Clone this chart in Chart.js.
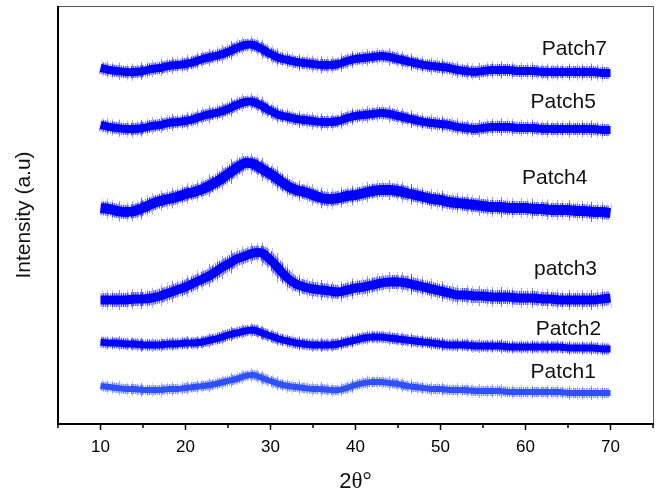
<!DOCTYPE html>
<html>
<head>
<meta charset="utf-8">
<script src="https://cdn.jsdelivr.net/npm/chart.js@4.4.1/dist/chart.umd.min.js"></script>
<style>
  html, body { margin: 0; padding: 0; background: #fff; }
</style>
</head>
<body>
<canvas id="xrd" width="660" height="494"></canvas>
<script>
// 2theta positions (degrees)
var twoTheta = [10,11,12,13,14,15,16,17,18,19,20,21,22,23,24,25,26,27,28,29,30,
                31,32,33,34,35,36,37,38,39,40,41,42,43,44,45,46,47,48,49,50,
                51,52,53,54,55,56,57,58,59,60,61,62,63,64,65,66,67,68,69,70];

// intensity (a.u.), offset traces as printed
var patch7 = [356,354,353,352,352,353,355,356,358,359,360,362,365,367,369,372,376,379,379,375,370,
              366,364,362,361,360,359,359,360,363,365,366,367,368,367,365,363,361,359,358,357,
              356,354,353,352,353,354,354,354,353,353,353,352,352,352,352,352,352,352,351,351];
var patch5 = [299,297,296,295,295,296,298,299,301,302,303,305,308,310,312,315,319,322,322,318,313,
              309,307,305,304,303,302,302,303,306,308,309,310,311,310,308,306,304,302,301,300,
              299,297,296,295,296,297,297,297,296,296,296,295,295,295,295,295,295,295,294,294];
var patch4 = [216,215,213,212,213,216,220,223,225,227,230,232,235,239,244,250,256,261,260,255,250,
              244,238,234,232,229,226,225,226,228,229,231,233,234,234,233,231,229,227,225,224,
              222,221,220,219,218,217,217,216,216,216,215,215,214,214,214,213,213,212,212,211];
var patch3 = [124,124,124,124,125,125,126,128,131,134,137,141,145,149,155,160,165,168,171,171,164,
              155,146,140,137,135,134,133,132,134,136,137,139,141,142,142,141,139,137,135,133,
              131,129,129,128,128,127,127,127,126,126,126,125,125,124,124,124,124,124,125,126];
var patch2 = [82,81,81,80,80,79,79,79,80,80,81,81,82,84,86,89,91,93,94,91,88,
              85,83,81,80,79,79,79,80,82,84,86,87,87,86,85,84,83,82,81,80,
              79,79,79,78,78,78,78,77,77,77,77,77,77,77,76,76,76,76,75,75];
var patch1 = [38,37,36,35,35,34,34,34,35,35,36,37,38,39,41,43,45,48,49,46,43,
              40,38,37,36,35,35,34,34,36,39,41,42,42,41,40,38,37,36,35,35,
              34,34,34,33,33,33,33,32,32,32,32,32,32,32,31,31,31,31,31,31];

var seriesNames = ["Patch1", "Patch2", "patch3", "Patch4", "Patch5", "Patch7"];
var seriesData = [patch1, patch2, patch3, patch4, patch5, patch7];
var majorTicks = [10, 20, 30, 40, 50, 60, 70];
var minorTicks = [5, 15, 25, 35, 45, 55, 65, 75];

// where each name sits (degrees, intensity)
var nameX = [60.6, 61.2, 61.0, 59.6, 60.6, 61.9];
var nameY = [46, 89, 149, 240, 316, 369];

// look of the traces
var traceRGB = ["48,80,255", "0,0,255", "0,0,255", "0,0,255", "0,0,255", "0,0,255"];
var coreWidth = [6, 7, 9, 10, 8, 8];
var midWidth = [10, 11, 14, 14, 12, 12];
var outerWidth = [14, 14, 20, 20, 17, 17];
// column shading for the scan noise (0..9 = alpha)
var midStripes = "7394061829350748261903857264093518273640519283746029183746501928374650";
var outerStripes = "003000050000200004000030000006000100030000500002000700000300004000010005000003000060000200";

function stripePattern(rgb, stripes){
    var c = document.createElement('canvas');
    c.width = stripes.length;
    c.height = 1;
    var g = c.getContext('2d');
    for (var i = 0; i < stripes.length; i++) {
        g.fillStyle = "rgba(" + rgb + "," + (parseInt(stripes[i]) / 12) + ")";
        g.fillRect(i, 0, 1, 1);
    }
    return g.createPattern(c, 'repeat');
}

function points(vals){
    var out = [];
    for (var i = 0; i < vals.length; i++) {
        out.push({x: twoTheta[i], y: vals[i]});
    }
    return out;
}

var datasets = [];
for (var i = 0; i < seriesData.length; i++) {
    var layers = [
        {w: outerWidth[i], c: stripePattern(traceRGB[i], outerStripes)},
        {w: midWidth[i], c: stripePattern(traceRGB[i], midStripes)},
        {w: coreWidth[i], c: "rgb(" + traceRGB[i] + ")"}
    ];
    for (var k = 0; k < layers.length; k++) {
        datasets.push({
            label: seriesNames[i],
            data: points(seriesData[i]),
            borderColor: layers[k].c,
            borderWidth: layers[k].w,
            borderCapStyle: 'butt',
            pointRadius: 0,
            tension: 0.35,
            fill: false
        });
    }
}

var sans = "'Liberation Sans', Arial, sans-serif";

var decor = {
    id: 'decor',
    afterDraw: function(chart){
        var ctx = chart.ctx;
        var a = chart.chartArea;
        var xs = chart.scales.x;
        var ys = chart.scales.y;
        ctx.save();

        // frame
        ctx.strokeStyle = "#555";
        ctx.lineWidth = 1;
        ctx.beginPath();
        ctx.moveTo(a.left, a.top + 0.5);
        ctx.lineTo(a.right + 0.5, a.top + 0.5);
        ctx.lineTo(a.right + 0.5, a.bottom);
        ctx.stroke();
        ctx.strokeStyle = "#000";
        ctx.lineWidth = 2;
        ctx.beginPath();
        ctx.moveTo(a.left, a.top);
        ctx.lineTo(a.left, a.bottom);
        ctx.lineTo(a.right + 1, a.bottom);
        ctx.stroke();

        // minor ticks
        ctx.lineWidth = 1.5;
        for (var i = 0; i < minorTicks.length; i++) {
            var px = Math.round(xs.getPixelForValue(minorTicks[i]));
            ctx.beginPath();
            ctx.moveTo(px, a.bottom);
            ctx.lineTo(px, a.bottom + 4);
            ctx.stroke();
        }

        // trace names
        ctx.fillStyle = "#111";
        ctx.font = "21px " + sans;
        ctx.textBaseline = "alphabetic";
        ctx.textAlign = "left";
        for (var j = 0; j < seriesNames.length; j++) {
            ctx.fillText(seriesNames[j], xs.getPixelForValue(nameX[j]), ys.getPixelForValue(nameY[j]));
        }

        // y title
        ctx.save();
        ctx.translate(24, (a.top + a.bottom) / 2);
        ctx.rotate(-Math.PI / 2);
        ctx.textAlign = "center";
        ctx.textBaseline = "middle";
        ctx.font = "21px " + sans;
        ctx.fillText("Intensity (a.u)", 0, 0);
        ctx.restore();

        // x title: "2" sans, theta and degree serif
        ctx.textBaseline = "alphabetic";
        ctx.textAlign = "left";
        var cx = (a.left + a.right) / 2;
        ctx.font = "22px " + sans;
        var w1 = ctx.measureText("2").width;
        ctx.font = "23px 'Liberation Serif', 'Times New Roman', serif";
        var w2 = ctx.measureText("\u03b8\u00b0").width;
        var x0 = cx - (w1 + w2) / 2;
        ctx.font = "22px " + sans;
        ctx.fillText("2", x0, 488);
        ctx.font = "23px 'Liberation Serif', 'Times New Roman', serif";
        ctx.fillText("\u03b8\u00b0", x0 + w1, 488);

        ctx.restore();
    }
};

new Chart(document.getElementById('xrd').getContext('2d'), {
    type: 'line',
    data: {datasets: datasets},
    options: {
        responsive: false,
        animation: false,
        devicePixelRatio: 1,
        layout: {padding: {left: 0, top: 6, right: 7, bottom: 0}},
        plugins: {
            legend: {display: false},
            tooltip: {enabled: false}
        },
        scales: {
            x: {
                type: 'linear',
                min: 5,
                max: 75,
                afterBuildTicks: function(scale){
                    scale.ticks = majorTicks.map(function(v){ return {value: v}; });
                },
                afterFit: function(scale){ scale.height = 70; },
                border: {display: false},
                grid: {
                    drawOnChartArea: false,
                    drawTicks: true,
                    tickLength: 6,
                    tickWidth: 1.5,
                    tickColor: "#000"
                },
                ticks: {
                    color: "#000",
                    padding: 7,
                    maxRotation: 0,
                    autoSkip: false,
                    font: {family: sans, size: 17}
                }
            },
            y: {
                min: 0,
                max: 418,
                afterFit: function(scale){ scale.width = 58; },
                border: {display: false},
                grid: {display: false},
                ticks: {display: false}
            }
        }
    },
    plugins: [decor]
});
</script>
</body>
</html>
